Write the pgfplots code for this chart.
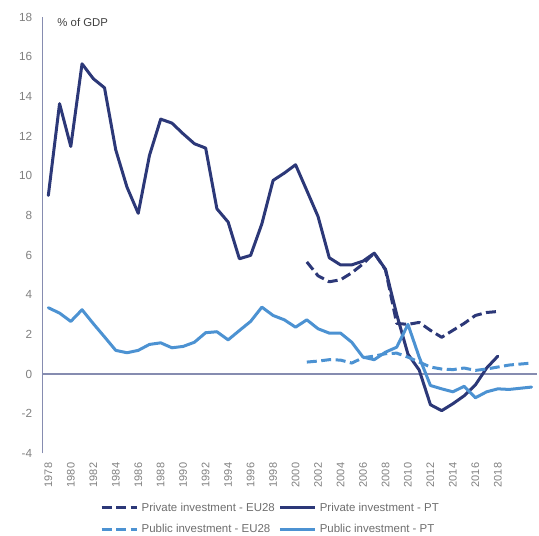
\documentclass[border=0pt]{standalone}
\usepackage{fontspec}
\setmainfont{Liberation Sans}
\usepackage{pgfplots}
\pgfplotsset{compat=1.18}
\definecolor{navy}{RGB}{44,56,120}
\definecolor{lblue}{RGB}{76,146,210}
\definecolor{axgray}{RGB}{134,140,176}
\definecolor{tickgray}{RGB}{128,128,128}
\definecolor{leggray}{RGB}{110,110,110}
\definecolor{labgray}{RGB}{64,64,64}
\begin{document}
\begin{tikzpicture}
\path[use as bounding box] (-42.7bp,-82.7bp) rectangle (496.3bp,453.3bp);
\begin{axis}[
  at={(0,0)}, anchor=south west,
  scale only axis, width=494.5bp, height=436.3bp,
  xmin=1977.5, xmax=2021.5, ymin=-4, ymax=18,
  axis lines*=left,
  x axis line style={draw=none},
  y axis line style={draw=axgray, line width=1.4bp},
  xtick={1978,1980,...,2018},
  ytick={-4,-2,...,18},
  major tick length=0pt,
  /pgf/number format/assume math mode=true,
  /pgf/number format/1000 sep={},
  xticklabel style={rotate=90, anchor=east, xshift=-6bp, font=\fontsize{11}{13}\selectfont, text=tickgray},
  yticklabel style={xshift=-7bp, font=\fontsize{11.8}{14}\selectfont, text=tickgray},
  extra y ticks={0}, extra y tick labels={},
  extra y tick style={grid=major, major grid style={draw=axgray, line width=1.4bp}},
  clip=false,
  legend columns=2,
  legend cell align=left,
  legend style={at={(axis description cs:0.1159,-0.105)}, anchor=north west, draw=none, fill=none, inner sep=0pt, row sep=5bp, column sep=0bp, font=\fontsize{11.5}{13}\selectfont, text=leggray, nodes={inner sep=3.5bp}},
  legend image code/.code={\draw[#1, line cap=butt] (0bp,0bp) -- (35bp,0bp);},
  every axis plot/.append style={line width=3bp, line join=round},
]
\addplot[navy, line cap=butt, dash pattern=on 10bp off 4.5bp] coordinates {
(2001,5.65) (2002,4.95) (2003,4.65) (2004,4.75) (2005,5.1) (2006,5.55) (2007,6.1)
(2008,5.25) (2009,2.55) (2010,2.5) (2011,2.6) (2012,2.2) (2013,1.85) (2014,2.2)
(2015,2.55) (2016,2.95) (2017,3.1) (2018,3.15)};
\addlegendentry{Private investment - EU28}
\addplot[navy, line cap=round] coordinates {
(1978,9.0) (1979,13.63) (1980,11.47) (1981,15.64) (1982,14.89) (1983,14.43)
(1984,11.3) (1985,9.42) (1986,8.1) (1987,11.02) (1988,12.85) (1989,12.65)
(1990,12.11) (1991,11.61) (1992,11.39) (1993,8.33) (1994,7.66) (1995,5.81)
(1996,5.98) (1997,7.57) (1998,9.76) (1999,10.13) (2000,10.55) (2001,9.25)
(2002,7.94) (2003,5.86) (2004,5.5) (2005,5.5) (2006,5.69) (2007,6.09)
(2008,5.28) (2009,3.0) (2010,1.0) (2011,0.2) (2012,-1.55) (2013,-1.85)
(2014,-1.5) (2015,-1.1) (2016,-0.55) (2017,0.3) (2018,0.9)};
\addlegendentry{Private investment - PT}
\addplot[lblue, line cap=butt, dash pattern=on 10bp off 4.5bp] coordinates {
(2001,0.6) (2002,0.65) (2003,0.72) (2004,0.7) (2005,0.55) (2006,0.82) (2007,0.9)
(2008,1.02) (2009,1.05) (2010,0.85) (2011,0.6) (2012,0.35) (2013,0.25) (2014,0.22)
(2015,0.3) (2016,0.18) (2017,0.25) (2018,0.35) (2019,0.45) (2020,0.5) (2021,0.55)};
\addlegendentry{Public investment - EU28}
\addplot[lblue, line cap=round] coordinates {
(1978,3.34) (1979,3.07) (1980,2.65) (1981,3.24) (1982,2.54) (1983,1.87)
(1984,1.19) (1985,1.07) (1986,1.19) (1987,1.49) (1988,1.57) (1989,1.32)
(1990,1.39) (1991,1.6) (1992,2.08) (1993,2.13) (1994,1.72) (1995,2.19)
(1996,2.65) (1997,3.37) (1998,2.95) (1999,2.73) (2000,2.36) (2001,2.73)
(2002,2.28) (2003,2.06) (2004,2.06) (2005,1.6) (2006,0.85) (2007,0.72)
(2008,1.1) (2009,1.35) (2010,2.5) (2011,0.85) (2012,-0.58) (2013,-0.75)
(2014,-0.9) (2015,-0.62) (2016,-1.2) (2017,-0.9) (2018,-0.75) (2019,-0.78)
(2020,-0.72) (2021,-0.66)};
\addlegendentry{Public investment - PT}
\node[anchor=west, inner sep=3.5bp, font=\fontsize{11.4}{13}\selectfont, text=labgray] at (axis description cs:0.0224,0.9885) {\% of GDP};
\end{axis}
\end{tikzpicture}
\end{document}
